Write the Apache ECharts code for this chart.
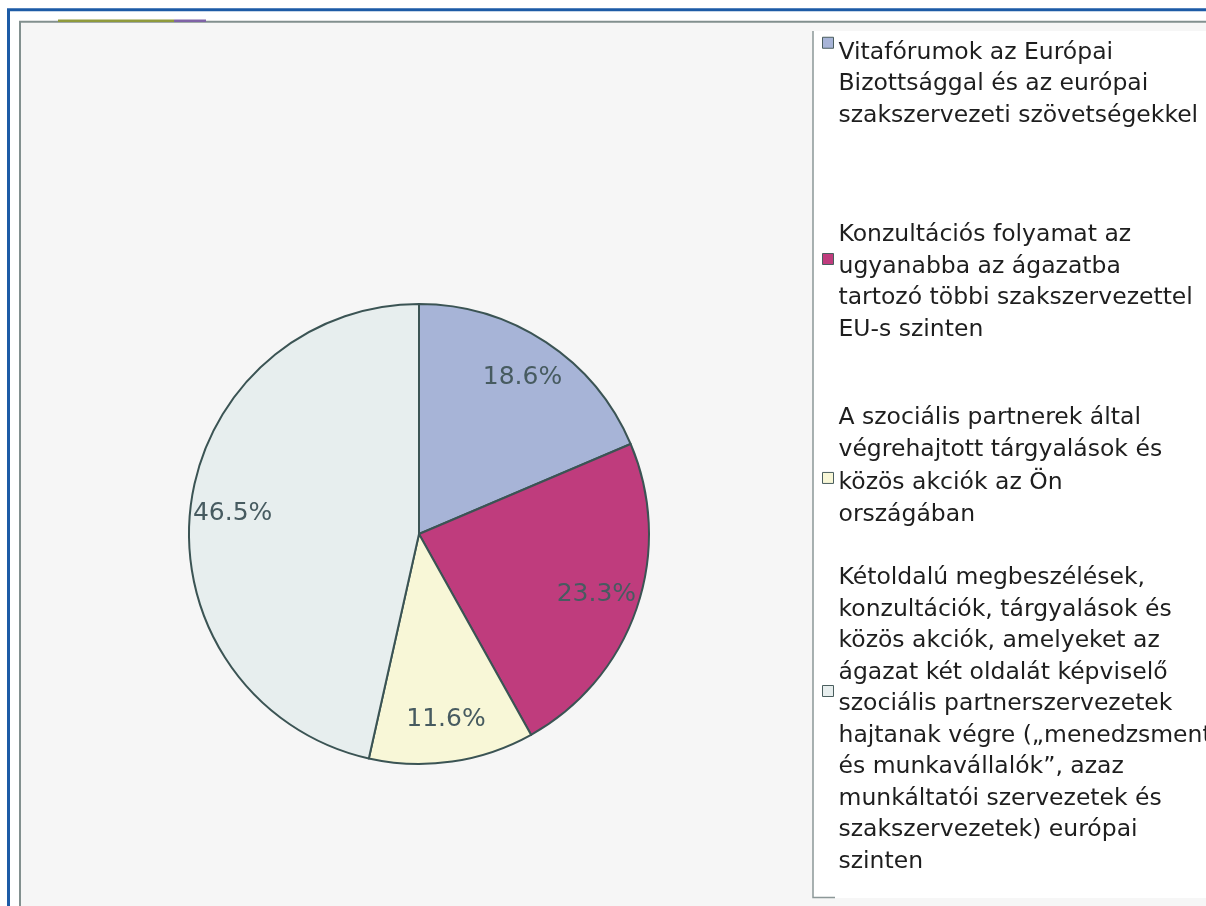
<!DOCTYPE html>
<html>
<head>
<meta charset="utf-8">
<script src="https://cdn.jsdelivr.net/npm/echarts@6/dist/echarts.min.js"></script>
<style>
html,body{margin:0;padding:0;background:#fff;}
#c{width:1206px;height:906px;}
</style>
</head>
<body>
<div id="c"></div>
<script>
const categories = [
  "Vitafórumok az Európai\nBizottsággal és az európai\nszakszervezeti szövetségekkel",
  "Konzultációs folyamat az\nugyanabba az ágazatba\ntartozó többi szakszervezettel\nEU-s szinten",
  "A szociális partnerek által\nvégrehajtott tárgyalások és\nközös akciók az Ön\nországában",
  "Kétoldalú megbeszélések,\nkonzultációk, tárgyalások és\nközös akciók, amelyeket az\nágazat két oldalát képviselő\nszociális partnerszervezetek\nhajtanak végre („menedzsment\nés munkavállalók”, azaz\nmunkáltatói szervezetek és\nszakszervezetek) európai\nszinten"
];
const values = [18.6, 23.3, 11.6, 46.5];
const colors = ['#a7b4d7', '#bf3c7d', '#f8f7d7', '#e7eeee'];

// legend layout helpers (positions only)
const legendTops = [36.75, 219.25, 401.85, 562.25];
const legendLineH = [31.5, 31.5, 32.3, 31.5];
const markerBoxH = [94, 57.5, 34, 68.5];
const markerAtTop = [true, true, false, true];

function markerPath(h, atTop) {
  if (atTop) return 'path://M0,0L11,0L11,11L0,11Z M0,' + h + 'L0,' + h;
  return 'path://M0,0L0,0 M0,' + (h - 11) + 'L11,' + (h - 11) + 'L11,' + h + 'L0,' + h + 'Z';
}

const chart = echarts.init(document.getElementById('c'), null, {renderer: 'canvas'});
const pieData = categories.map((n, i) => ({name: n, value: values[i], itemStyle: {color: colors[i]}}));

const legends = categories.map((n, i) => ({
  orient: 'vertical',
  left: 822,
  top: legendTops[i],
  padding: 0,
  itemGap: 0,
  itemWidth: 11,
  itemHeight: markerBoxH[i],
  selectedMode: false,
  itemStyle: {borderColor: '#4a5e5e', borderWidth: 1},
  textStyle: {fontFamily: 'DejaVu Sans', fontSize: 23.5, lineHeight: legendLineH[i], color: '#1e1e1e'},
  data: [{name: n, icon: markerPath(markerBoxH[i], markerAtTop[i])}]
}));

const option = {
  animation: false,
  backgroundColor: '#ffffff',
  graphic: [
    {type: 'rect', z: -10, shape: {x: 8.5, y: 9.8, width: 1400, height: 1200},
     style: {fill: 'none', stroke: '#1d5ba6', lineWidth: 3}},
    {type: 'rect', z: -9, shape: {x: 20, y: 21.8, width: 1400, height: 1200},
     style: {fill: '#f6f6f6', stroke: '#82908f', lineWidth: 2}},
    {type: 'rect', z: -8, shape: {x: 58, y: 19.5, width: 116, height: 2.5}, style: {fill: '#8f9a3c'}},
    {type: 'rect', z: -8, shape: {x: 174, y: 19.5, width: 32, height: 2.5}, style: {fill: '#7f63a6'}},
    {type: 'rect', z: -7, shape: {x: 813, y: 31, width: 500, height: 867}, style: {fill: '#ffffff'}},
    {type: 'polyline', z: -6, shape: {points: [[813, 31], [813, 897.5], [835, 897.5]]},
     style: {fill: 'none', stroke: '#8c9898', lineWidth: 1.5}}
  ],
  legend: legends,
  series: [
    {
      type: 'pie',
      center: [419, 534],
      radius: [0, 230],
      startAngle: 90,
      clockwise: true,
      avoidLabelOverlap: false,
      silent: true,
      itemStyle: {borderColor: '#3b5454', borderWidth: 2},
      label: {show: false},
      labelLine: {show: false},
      emphasis: {disabled: true},
      data: pieData
    },
    {
      type: 'pie',
      center: [419, 534],
      radius: [139, 230],
      startAngle: 90,
      clockwise: true,
      silent: true,
      legendHoverLink: false,
      avoidLabelOverlap: false,
      itemStyle: {color: 'rgba(0,0,0,0)', borderWidth: 0},
      label: {
        show: true,
        position: 'inside',
        fontFamily: 'DejaVu Sans',
        fontSize: 25,
        color: '#475b60',
        formatter: p => p.value.toFixed(1) + '%'
      },
      labelLine: {show: false},
      emphasis: {disabled: true},
      data: categories.map((n, i) => ({name: n, value: values[i]}))
    }
  ]
};
chart.setOption(option);
</script>
</body>
</html>
